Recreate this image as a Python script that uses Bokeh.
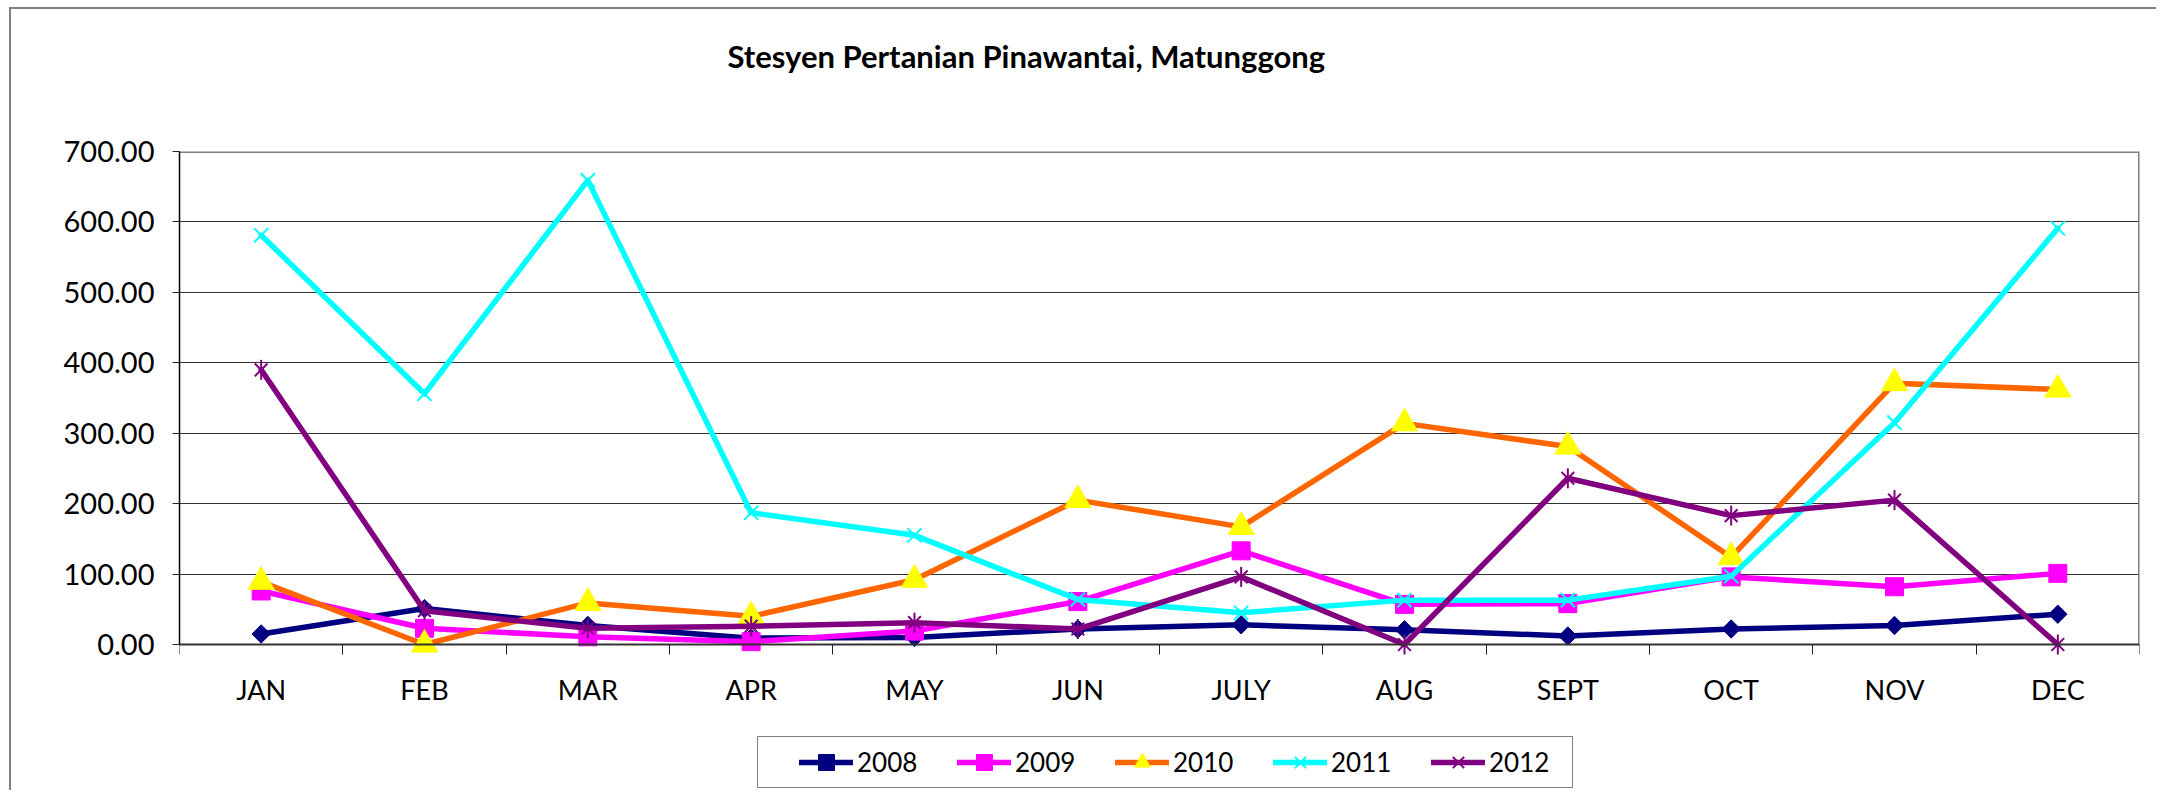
import numpy as np
from bokeh.plotting import figure
from bokeh.models import (Range1d, FixedTicker, NumeralTickFormatter, Legend,
                          LegendItem, Title, LinearAxis)
from bokeh.embed import file_html
from bokeh.resources import INLINE

# ---------------- data ----------------
months = ["JAN", "FEB", "MAR", "APR", "MAY", "JUN", "JULY", "AUG", "SEPT", "OCT", "NOV", "DEC"]
y2008 = [15, 51, 27, 9, 10, 22, 28, 21, 12, 22, 27, 43]
y2009 = [76, 23, 11, 4, 19, 61, 133, 57, 58, 96, 82, 101]
y2010 = [89, 0, 59, 40, 92, 205, 167, 314, 281, 124, 371, 362]
y2011 = [581, 356, 659, 187, 155, 64, 45, 63, 63, 97, 315, 591]
y2012 = [390, 48, 23, 26, 31, 22, 96, 0, 236, 183, 205, 0]
series_names = ["2008", "2009", "2010", "2011", "2012"]
y_ticks = [0, 100, 200, 300, 400, 500, 600, 700]
title_text = "Stesyen Pertanian Pinawantai, Matunggong"

FONT = "Lato"

x = [i + 0.5 for i in range(len(months))]
bounds = list(range(len(months) + 1))

# layout (pixels): value axis spans 493 px; the area below it (axis labels and
# legend) is kept inside the frame so that nothing is clipped
AXIS_PX = 493
BELOW_PX = 146
y_lo, y_hi = y_ticks[0], y_ticks[-1]
y_start = y_lo - BELOW_PX * (y_hi - y_lo) / AXIS_PX

p = figure(frame_width=1960, frame_height=AXIS_PX + BELOW_PX,
           min_border_left=179, min_border_right=17,
           min_border_top=0, min_border_bottom=0,
           x_range=Range1d(0, len(months)), y_range=Range1d(y_start, y_hi),
           x_axis_location=None,
           output_backend="svg", toolbar_location=None,
           background_fill_color="white", border_fill_color=None)

# outer chart-area border (top and left edges are visible in the reference)
p.styles = {
    "background-color": "white",
    "background-image": "linear-gradient(#808080, #808080), linear-gradient(#808080, #808080)",
    "background-size": "100% 2px, 2px 100%",
    "background-position": "9px 7px, 9px 7px",
    "background-repeat": "no-repeat",
}
p.outline_line_color = None

# x axis: drawn at value 0, labels at centres, ticks at category boundaries
xa = LinearAxis(fixed_location=y_lo)
xa.ticker = FixedTicker(ticks=x, minor_ticks=bounds)
xa.major_label_overrides = {xi: m for xi, m in zip(x, months)}
xa.major_tick_line_color = None
xa.major_tick_out = 0
xa.major_tick_in = 0
xa.minor_tick_line_color = "#222222"
xa.minor_tick_out = 10
xa.minor_tick_in = 0
xa.minor_tick_line_width = 1
xa.axis_line_color = "#333333"
xa.axis_line_width = 2
xa.major_label_text_font = FONT
xa.major_label_text_font_size = "27px"
xa.major_label_text_color = "black"
xa.major_label_standoff = 18
p.add_layout(xa, "below")

ya = p.yaxis[0]
ya.bounds = (y_lo, y_hi)
ya.ticker = FixedTicker(ticks=y_ticks)
ya.formatter = NumeralTickFormatter(format="0.00")
ya.major_tick_out = 7
ya.major_tick_in = 0
ya.major_tick_line_color = "#222222"
ya.minor_tick_line_color = None
ya.axis_line_color = "black"
ya.axis_line_width = 1.5
ya.major_label_text_font = FONT
ya.major_label_text_font_size = "29px"
ya.major_label_text_color = "black"
ya.major_label_standoff = 18

p.xgrid.visible = False
p.ygrid.ticker = FixedTicker(ticks=y_ticks)
p.ygrid.grid_line_color = "#333333"
p.ygrid.grid_line_width = 1

# plot-area border (top and right, grey)
p.segment(x0=[0, len(months)], y0=[y_hi, y_lo], x1=[len(months), len(months)], y1=[y_hi, y_hi],
          line_color="#808080", line_width=3)

# ---------------- series ----------------
values = [y2008, y2009, y2010, y2011, y2012]
line_colors = ["#000080", "#FF00FF", "#FF6600", "#00FFFF", "#800080"]

items = []
for name, vals, lc in zip(series_names, values, line_colors):
    rl = p.line(x, vals, line_color=lc, line_width=5.5, line_join="round", line_cap="round")
    rends = [rl]
    if name == "2008":
        rends.append(p.scatter(x, vals, marker="square", size=13, angle=np.pi / 4,
                               fill_color=lc, line_color=lc))
    elif name == "2009":
        rends.append(p.scatter(x, vals, marker="square", size=18,
                               fill_color=lc, line_color=lc))
    elif name == "2010":
        rends.append(p.scatter(x, vals, marker="triangle", size=26,
                               fill_color="#FFFF00", line_color="#FFFF00"))
    elif name == "2011":
        rends.append(p.scatter(x, vals, marker="x", size=20,
                               line_color=lc, line_width=2))
    else:
        rends.append(p.scatter(x, vals, marker="x", size=18,
                               line_color=lc, line_width=2))
        rends.append(p.scatter(x, vals, marker="dash", size=20, angle=np.pi / 2,
                               line_color=lc, line_width=2))
    items.append(LegendItem(label=name, renderers=rends))

legend = Legend(items=items, orientation="horizontal", location=(578, 2),
                glyph_width=54, glyph_height=40, label_standoff=4,
                label_width=78, spacing=22,
                padding=5, margin=0,
                title=" ", title_location="left", title_text_font_size="10px",
                title_standoff=25,
                label_text_font=FONT, label_text_font_size="26px",
                label_text_color="black",
                border_line_color="black", border_line_width=1.5,
                background_fill_color="white", background_fill_alpha=1.0)
p.add_layout(legend)

# spacer between the title and the plot frame, then the title itself
spacer = Title(text=" ", text_font_size="1px", standoff=37)
p.add_layout(spacer, "above")
main_title = Title(text=title_text, align="left", offset=548, vertical_align="middle",
                   text_font=FONT, text_font_size="31px", text_font_style="bold",
                   text_color="black", standoff=71)
p.add_layout(main_title, "above")

open("out.html", "w").write(file_html(p, INLINE))
